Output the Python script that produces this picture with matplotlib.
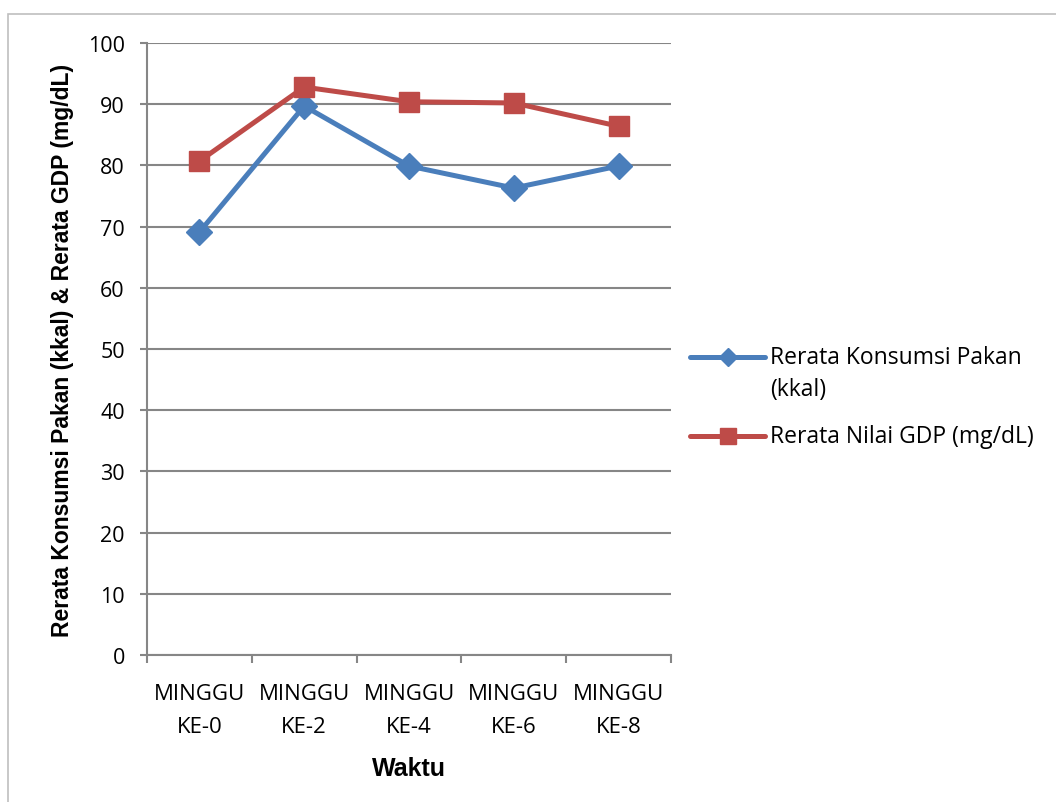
import matplotlib

matplotlib.use("Agg")
import matplotlib.pyplot as plt
from matplotlib.lines import Line2D
from matplotlib.patches import Rectangle

# data
waktu = ["MINGGU\nKE-0", "MINGGU\nKE-2", "MINGGU\nKE-4", "MINGGU\nKE-6", "MINGGU\nKE-8"]
konsumsi_pakan = [69.1, 89.7, 79.9, 76.3, 79.9]
nilai_gdp = [80.7, 92.8, 90.4, 90.2, 86.4]
y_ticks = [0, 10, 20, 30, 40, 50, 60, 70, 80, 90, 100]

BLUE = "#4a7ebb"
RED = "#be4b48"
GRID = "#868686"
TXT = "Open Sans"
W, H = 1056, 803

fig = plt.figure(figsize=(W / 100, H / 100), dpi=100)
fig.patch.set_facecolor("white")

# chart frame
fig.patches.append(Rectangle((8 / W, -0.01), 1.1, (H - 15) / H + 0.01,
                             transform=fig.transFigure, fill=False,
                             edgecolor="#bfbfbf", linewidth=1.2))

ax = fig.add_axes([147 / W, (H - 656) / H, (671 - 147) / W, (656 - 44) / H])

x = list(range(len(waktu)))
ax.plot(x, konsumsi_pakan, color=BLUE, lw=3.6, marker="D", ms=13, zorder=3)
ax.plot(x, nilai_gdp, color=RED, lw=3.6, marker="s", ms=15, zorder=3)

ax.set_xlim(-0.5, len(waktu) - 0.5)
ax.set_ylim(0, 100)
ax.set_yticks(y_ticks)
ax.yaxis.grid(True, color=GRID, lw=1.5)
ax.set_axisbelow(True)

ax.set_xticks(x)
ax.set_xticklabels(waktu, fontsize=16, fontfamily=TXT, linespacing=1.75)
ax.set_xticks([i - 0.5 for i in range(len(waktu) + 1)], minor=True)
ax.tick_params(axis="x", which="major", length=0, pad=20)
ax.tick_params(axis="x", which="minor", length=6, color=GRID, width=1.5)
ax.tick_params(axis="y", length=5, color=GRID, width=1.5, labelsize=15.5, pad=11)
for lbl in ax.get_yticklabels():
    lbl.set_fontfamily(TXT)

for side in ("top", "right"):
    ax.spines[side].set_visible(False)
for side in ("left", "bottom"):
    ax.spines[side].set_color(GRID)
    ax.spines[side].set_linewidth(1.5)

ax.set_xlabel("Waktu", fontsize=18, fontweight="bold", fontfamily="Liberation Sans", labelpad=14)
ax.set_ylabel("Rerata Konsumsi Pakan (kkal) & Rerata GDP (mg/dL)", fontsize=16.5,
              fontweight="bold", fontfamily="Liberation Sans", labelpad=10)


# legend: handle sits level with the first text line, as in Excel
def legend_item(y_px, color, marker, ms, lines):
    y = 1 - y_px / H
    fig.add_artist(Line2D([690 / W, 765 / W], [y, y], transform=fig.transFigure,
                          color=color, lw=3.6, solid_capstyle="round"))
    fig.add_artist(Line2D([728 / W], [y], transform=fig.transFigure, color=color,
                          marker=marker, ms=ms, lw=0))
    for i, line in enumerate(lines):
        fig.text(770 / W, 1 - (y_px + 32 * i) / H, line, fontsize=16.5,
                 fontfamily=TXT, va="center", ha="left")


legend_item(358, BLUE, "D", 9.5, ["Rerata Konsumsi Pakan", "(kkal)"])
legend_item(437, RED, "s", 12, ["Rerata Nilai GDP (mg/dL)"])

fig.savefig("out.png", dpi=100)
